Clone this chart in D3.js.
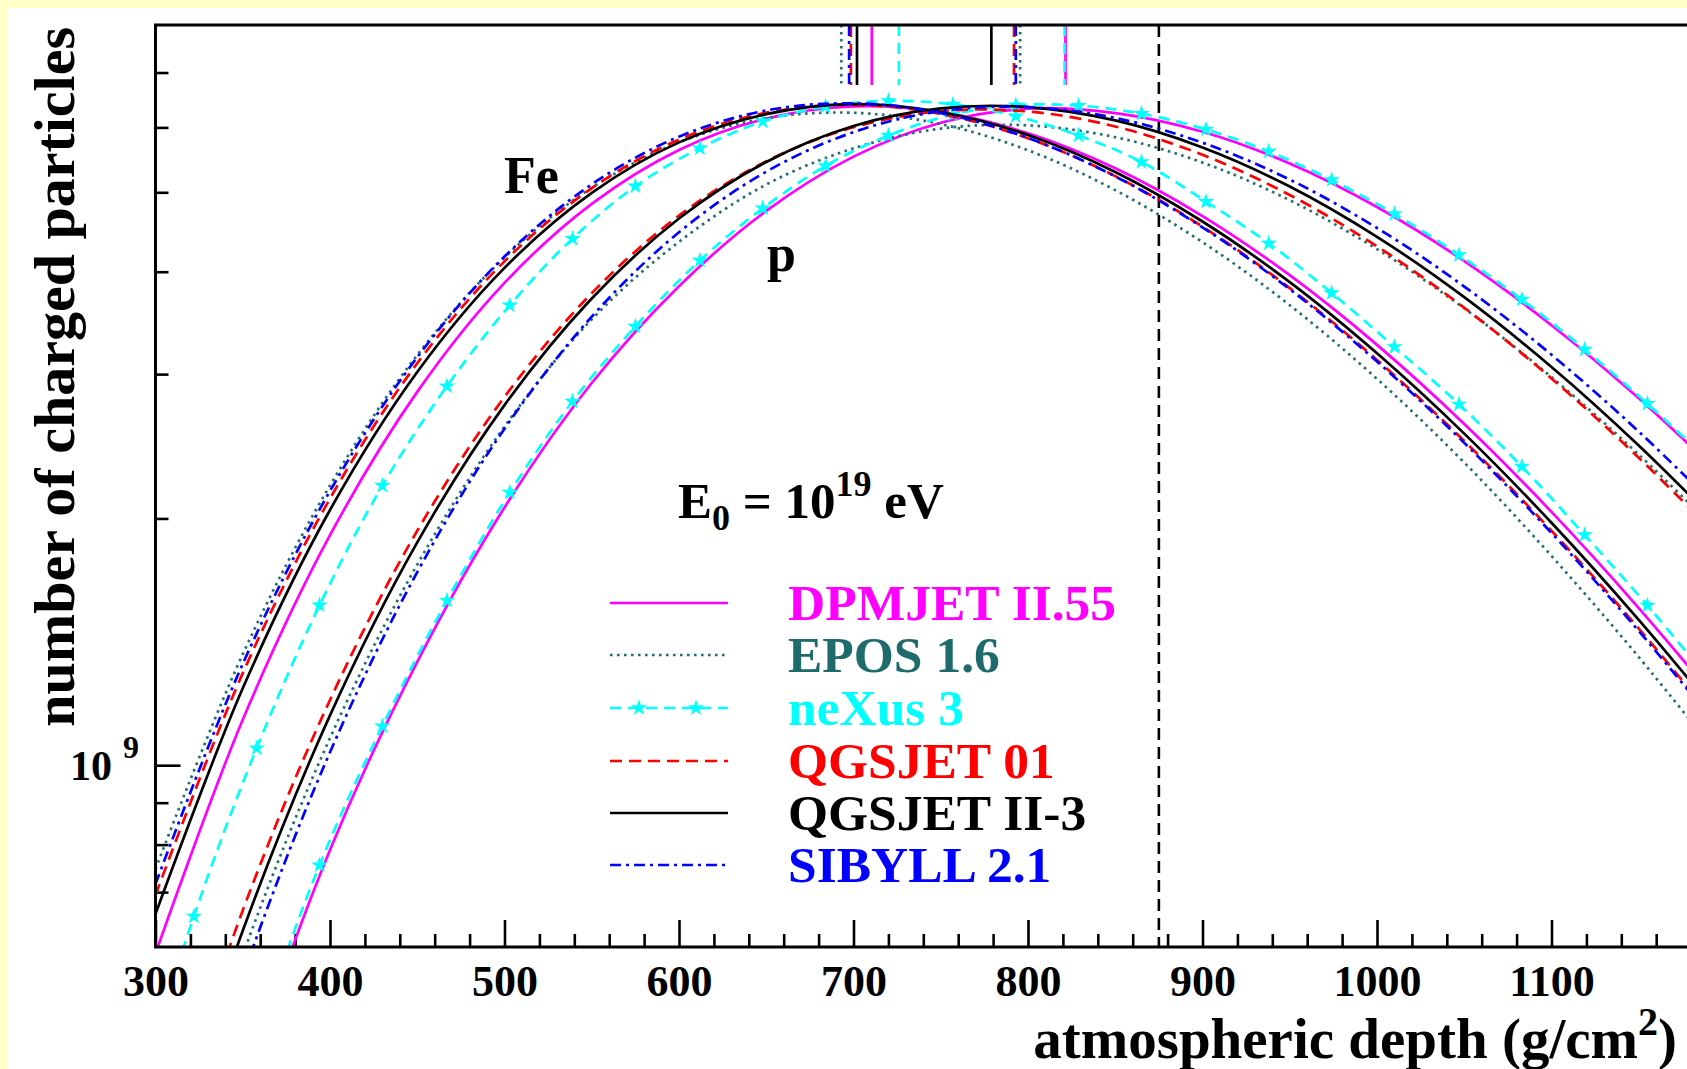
<!DOCTYPE html>
<html>
<head>
<meta charset="utf-8">
<script src="https://cdn.jsdelivr.net/npm/d3@7"></script>
<style>
  html, body { margin: 0; padding: 0; background: #ffffff; overflow: hidden; }
  svg { display: block; }
  text { font-family: "Liberation Serif", "Times New Roman", serif; font-weight: bold; }
</style>
</head>
<body>
<svg id="chart" width="1687" height="1069"></svg>
<script>
// Longitudinal shower profiles: number of charged particles vs. atmospheric depth,
// proton and iron primaries at E0 = 10^19 eV, six hadronic interaction models.
// Depths in g/cm^2, particle numbers in units of 10^9.

const depthGrid = [300, 350, 400, 450, 500, 550, 600, 650, 700, 750, 800, 850, 900, 950, 1000, 1050, 1100, 1150, 1200];
// neXus profiles are sampled where their star markers sit
const starDepths = [285, 322, 358, 394, 430, 467, 503, 539, 575, 612, 648, 684, 720, 757, 793, 829, 865, 902, 938, 974, 1010, 1047, 1083, 1119, 1155, 1192];

const models = ["DPMJET II.55", "EPOS 1.6", "neXus 3", "QGSJET 01", "QGSJET II-3", "SIBYLL 2.1"];

// iron primaries
const feDPMJET   = [0.589, 1.136, 1.908, 2.854, 3.876, 4.840, 5.632, 6.150, 6.363, 6.262, 5.902, 5.349, 4.677, 3.961, 3.257, 2.608, 2.037, 1.555, 1.163];
const feEPOS     = [0.747, 1.366, 2.194, 3.165, 4.164, 5.064, 5.754, 6.158, 6.252, 6.056, 5.627, 5.030, 4.346, 3.641, 2.960, 2.340, 1.800, 1.355, 1.000];
const feNEXUS    = [0.365, 0.654, 1.049, 1.567, 2.193, 2.900, 3.640, 4.390, 5.085, 5.661, 6.100, 6.362, 6.465, 6.400, 6.193, 5.866, 5.444, 4.871, 4.330, 3.768, 3.239, 2.756, 2.314, 1.909, 1.566, 1.259];
const feQGSJET01 = [0.694, 1.295, 2.115, 3.093, 4.118, 5.058, 5.798, 6.253, 6.393, 6.230, 5.821, 5.232, 4.541, 3.820, 3.122, 2.486, 1.932, 1.468, 1.092];
const feQGSJETII = [0.658, 1.241, 2.048, 3.018, 4.043, 4.992, 5.753, 6.229, 6.407, 6.266, 5.873, 5.294, 4.606, 3.885, 3.181, 2.538, 1.976, 1.504, 1.121];
const feSIBYLL   = [0.716, 1.329, 2.160, 3.146, 4.174, 5.113, 5.846, 6.292, 6.420, 6.245, 5.825, 5.228, 4.531, 3.808, 3.108, 2.473, 1.920, 1.458, 1.084];

// proton primaries
const pDPMJET   = [0.171, 0.399, 0.788, 1.337, 2.063, 2.926, 3.841, 4.745, 5.527, 6.080, 6.324, 6.245, 5.927, 5.421, 4.797, 4.121, 3.442, 2.803, 2.229];
const pEPOS     = [0.278, 0.587, 1.079, 1.757, 2.589, 3.499, 4.350, 5.110, 5.657, 5.980, 6.034, 5.837, 5.436, 4.890, 4.262, 3.609, 2.975, 2.393, 1.883];
const pNEXUS    = [0.132, 0.261, 0.463, 0.755, 1.116, 1.588, 2.151, 2.778, 3.429, 4.128, 4.780, 5.384, 5.865, 6.221, 6.385, 6.379, 6.235, 5.966, 5.607, 5.176, 4.706, 4.194, 3.700, 3.215, 2.761, 2.330];
const pQGSJET01 = [0.320, 0.665, 1.201, 1.932, 2.814, 3.766, 4.683, 5.455, 6.002, 6.280, 6.274, 6.015, 5.555, 4.962, 4.296, 3.615, 2.964, 2.372, 1.857];
const pQGSJETII = [0.298, 0.628, 1.150, 1.870, 2.750, 3.710, 4.645, 5.445, 6.024, 6.330, 6.353, 6.119, 5.672, 5.082, 4.412, 3.724, 3.061, 2.455, 1.926];
const pSIBYLL   = [0.255, 0.553, 1.037, 1.720, 2.574, 3.525, 4.469, 5.298, 5.921, 6.281, 6.350, 6.162, 5.748, 5.182, 4.523, 3.837, 3.168, 2.553, 2.011];

// mean depth of shower maximum per model (same order as models)
const xmaxFe = [710.5, 693, 726, 698.5, 702, 697.5];
const xmaxP  = [821.5, 795.5, 821, 792, 779, 793];

// detector level marked by the vertical dashed line
const groundDepth = 875;

const xMajorTicks = [300, 400, 500, 600, 700, 800, 900, 1000, 1100];
const xMinorTicks = d3.range(300, 1181, 20).filter(v => v % 100 !== 0);
const yMajorTicks = [1];
const yMinorTicks = [0.7, 0.8, 0.9, 2, 3, 4, 5, 6, 7];

const styles = [
  { color: "#ff00ff", dash: null,          text: "#ff00ff" },
  { color: "#237070", dash: "2.6,4.4",     text: "#1f6a6a" },
  { color: "#00ffff", dash: "11,7",        text: "#00ffff", stars: true },
  { color: "#ff0000", dash: "12,7",        text: "#ff0000" },
  { color: "#000000", dash: null,          text: "#000000" },
  { color: "#0000ff", dash: "11,5,3,5",    text: "#0000ff" }
];

const feSeries = [feDPMJET, feEPOS, feNEXUS, feQGSJET01, feQGSJETII, feSIBYLL];
const pSeries  = [pDPMJET, pEPOS, pNEXUS, pQGSJET01, pQGSJETII, pSIBYLL];

const W = 1687, H = 1069;
const frameL = 155.5, frameT = 25, frameB = 947, frameR = 1726;
const LW = 2.7;

const svg = d3.select("#chart");

// page background with the pale yellow margin on the left and top
svg.append("rect").attr("width", W).attr("height", H).attr("fill", "#ffffc8");
svg.append("rect").attr("x", 8).attr("y", 8).attr("width", W - 8).attr("height", H - 8).attr("fill", "#ffffff");

const x = d3.scaleLinear().domain([300, 1200]).range([frameL, frameR]);
const y = d3.scaleLog().domain([0.6, 8]).range([frameB, frameT]);

svg.append("clipPath").attr("id", "plotArea")
  .append("rect").attr("x", frameL).attr("y", frameT).attr("width", frameR - frameL).attr("height", frameB - frameT);

const fontFam = "Liberation Serif, Times New Roman, serif";

// x axis ticks (pointing into the frame)
const gxMaj = svg.append("g").attr("transform", `translate(0,${frameB})`)
  .call(d3.axisBottom(x).tickValues(xMajorTicks).tickSize(-27).tickPadding(18).tickFormat(d3.format("d")));
const gxMin = svg.append("g").attr("transform", `translate(0,${frameB})`)
  .call(d3.axisBottom(x).tickValues(xMinorTicks).tickSize(-13).tickFormat(""));
[gxMaj, gxMin].forEach(g => {
  g.select(".domain").remove();
  g.selectAll(".tick line").attr("stroke", "#000").attr("stroke-width", 2.6);
  g.attr("font-family", fontFam).attr("font-size", 44).attr("font-weight", "bold");
  g.selectAll(".tick text").attr("fill", "#000");
});

// y axis ticks
const gyMaj = svg.append("g").attr("transform", `translate(${frameL},0)`)
  .call(d3.axisLeft(y).tickValues(yMajorTicks).tickSize(-25).tickFormat(""));
const gyMin = svg.append("g").attr("transform", `translate(${frameL},0)`)
  .call(d3.axisLeft(y).tickValues(yMinorTicks).tickSize(-13).tickFormat(""));
[gyMaj, gyMin].forEach(g => {
  g.select(".domain").remove();
  g.selectAll(".tick line").attr("stroke", "#000").attr("stroke-width", 2.6);
});

// 10^9 label
yMajorTicks.forEach(v => {
  svg.append("text").attr("x", 112).attr("y", y(v) + 15).attr("text-anchor", "end")
    .attr("font-size", 42).attr("fill", "#000").text("10");
  svg.append("text").attr("x", 123).attr("y", y(v) - 7).attr("text-anchor", "start")
    .attr("font-size", 32).attr("fill", "#000").text(Math.round(Math.log10(v * 1e9)));
});

// detector level
svg.append("line")
  .attr("x1", x(groundDepth)).attr("x2", x(groundDepth))
  .attr("y1", frameT).attr("y2", frameB)
  .attr("stroke", "#000").attr("stroke-width", 2.6).attr("stroke-dasharray", "12,7");

// profiles
const plot = svg.append("g").attr("clip-path", "url(#plotArea)");
const line = d3.line()
  .x(d => x(d[0]))
  .y(d => y(d[1]))
  .curve(d3.curveCatmullRom.alpha(0.5));

const star = d3.symbol().type(d3.symbolStar).size(85);

models.forEach((m, i) => {
  const st = styles[i];
  [feSeries[i], pSeries[i]].forEach(vals => {
    const depths = st.stars ? starDepths : depthGrid;
    const pts = depths.map((d, k) => [d, vals[k]]);
    plot.append("path")
      .attr("d", line(pts))
      .attr("fill", "none")
      .attr("stroke", st.color)
      .attr("stroke-width", LW)
      .attr("stroke-dasharray", st.dash);
    if (st.stars) {
      plot.selectAll(null).data(pts.filter(p => p[1] >= 0.6)).enter()
        .append("path")
        .attr("d", star)
        .attr("transform", p => `translate(${x(p[0])},${y(p[1])})`)
        .attr("fill", st.color);
    }
  });
});

// Xmax indicators hanging from the top of the frame
models.forEach((m, i) => {
  const st = styles[i];
  [xmaxFe[i], xmaxP[i]].forEach(xm => {
    svg.append("line")
      .attr("x1", x(xm)).attr("x2", x(xm))
      .attr("y1", frameT).attr("y2", frameT + 60)
      .attr("stroke", st.color).attr("stroke-width", LW)
      .attr("stroke-dasharray", st.dash);
  });
});

// frame
svg.append("rect")
  .attr("x", frameL).attr("y", frameT).attr("width", frameR - frameL).attr("height", frameB - frameT)
  .attr("fill", "none").attr("stroke", "#000").attr("stroke-width", 3);

// primary labels
svg.append("text").attr("x", 504).attr("y", 193).attr("font-size", 52).attr("fill", "#000").text("Fe");
svg.append("text").attr("x", 767).attr("y", 271).attr("font-size", 52).attr("fill", "#000").text("p");

// energy label
const eLab = svg.append("text").attr("x", 678).attr("y", 518).attr("font-size", 51).attr("fill", "#000");
eLab.append("tspan").text("E");
eLab.append("tspan").attr("font-size", 36).attr("dy", 12).text("0");
eLab.append("tspan").attr("dy", -12).text(" = 10");
eLab.append("tspan").attr("font-size", 36).attr("dy", -22).text("19");
eLab.append("tspan").attr("dy", 22).text(" eV");

// legend
const legRows = [603, 655, 708, 761, 813, 865];
models.forEach((m, i) => {
  const st = styles[i];
  const ly = legRows[i];
  svg.append("line")
    .attr("x1", 610).attr("x2", 728).attr("y1", ly).attr("y2", ly)
    .attr("stroke", st.color).attr("stroke-width", LW)
    .attr("stroke-dasharray", st.dash);
  if (st.stars) {
    [639, 696].forEach(sx => {
      svg.append("path").attr("d", star).attr("transform", `translate(${sx},${ly})`).attr("fill", st.color);
    });
  }
  svg.append("text").attr("x", 788).attr("y", ly + 17)
    .attr("font-size", 51.5).attr("fill", st.text).text(m);
});

// axis titles
const xt = svg.append("text").attr("x", 1677).attr("y", 1058).attr("text-anchor", "end")
  .attr("font-size", 57).attr("fill", "#000");
xt.append("tspan").text("atmospheric depth (g/cm");
xt.append("tspan").attr("font-size", 40).attr("dy", -23).text("2");
xt.append("tspan").attr("dy", 23).text(")");

svg.append("text")
  .attr("transform", "translate(74,27) rotate(-90)")
  .attr("text-anchor", "end")
  .attr("font-size", 58).attr("fill", "#000")
  .text("number of charged particles");
</script>
</body>
</html>
